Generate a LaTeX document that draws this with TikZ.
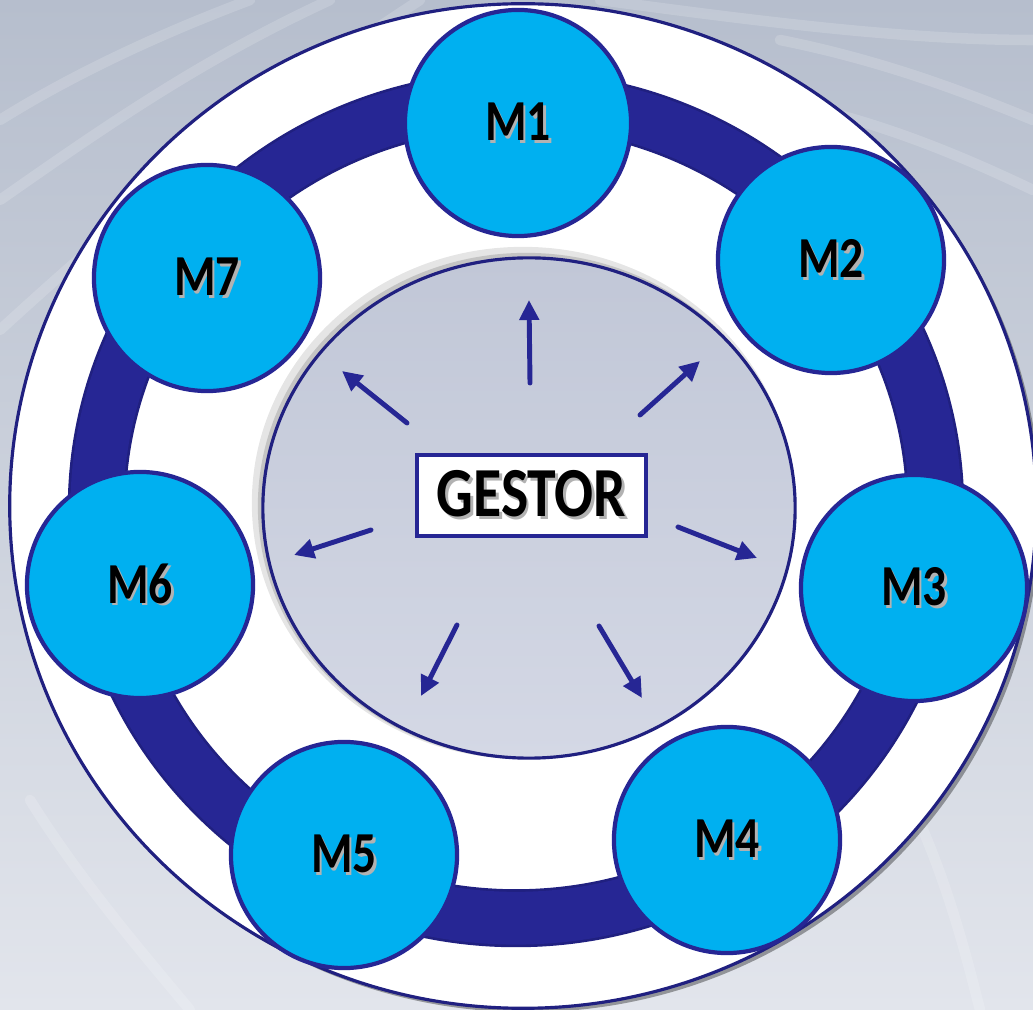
\documentclass[tikz,border=0pt]{standalone}
\usepackage{fontspec}
\setmainfont{Carlito}
\newfontfamily\labfont{Carlito}[FakeStretch=0.82]
\usetikzlibrary{arrows.meta}
\definecolor{navy}{RGB}{38,38,148}
\definecolor{navyd}{RGB}{32,32,128}
\definecolor{cyanm}{RGB}{0,176,240}
\definecolor{bgtop}{RGB}{182,190,205}
\definecolor{bgbot}{RGB}{226,229,236}
\definecolor{intop}{RGB}{193,199,215}
\definecolor{inbot}{RGB}{212,216,229}
\newcommand{\shtext}[1]{\makebox[0pt][l]{\raisebox{-0.8pt}{\hspace{0.8pt}\textcolor{black!30}{#1}}}#1}
\tikzset{
  module/.style={circle, draw=navy, line width=1.2pt, fill=cyanm, minimum size=2.26cm, inner sep=0pt,
    font=\labfont\bfseries\fontsize{16.5}{16.5}\selectfont, text=black},
  gestorbox/.style={rectangle, draw=navy, line width=1.2pt, fill=white, minimum width=2.29cm,
    minimum height=0.81cm, inner sep=0pt, font=\labfont\bfseries\fontsize{20}{20}\selectfont, text=black},
  ray/.style={draw=navy, line width=1.4pt, line cap=round, -{Triangle[length=0.2cm,width=0.19cm]}},
  streak/.style={draw=white, opacity=0.16, line width=3pt, line cap=round}
}
\begin{document}
\begin{tikzpicture}[x=0.01cm,y=-0.01cm]
\useasboundingbox (0,0) rectangle (1033,1010);
% background
\fill[top color=bgtop, bottom color=bgbot] (0,0) rectangle (1033,1010);
\draw[streak] (0,120) .. controls (80,70) and (170,30) .. (250,0);
\draw[streak] (0,200) .. controls (100,130) and (200,60) .. (330,0);
\draw[streak] (0,330) .. controls (120,220) and (250,110) .. (420,0);
\draw[streak] (780,40) .. controls (880,60) and (960,90) .. (1033,120);
\draw[streak] (820,110) .. controls (900,130) and (970,160) .. (1033,190);
\draw[streak] (600,0) .. controls (750,20) and (900,40) .. (1033,40);
\draw[streak] (30,800) .. controls (80,880) and (140,950) .. (190,1010);
\draw[streak] (900,780) .. controls (940,860) and (960,930) .. (980,1010);
% outer disc
\fill[black, opacity=0.35] (527,510) ellipse [x radius=5.13cm, y radius=5.02cm];
\filldraw[fill=white, draw=navyd, line width=0.9pt] (523,506) ellipse [x radius=5.13cm, y radius=5.02cm];
% ring
\draw[navyd, line width=16.5pt] (516,509) ellipse [x radius=4.19cm, y radius=4.09cm];
\draw[navy, line width=15pt] (516,509) ellipse [x radius=4.19cm, y radius=4.09cm];
% modules
\node[module] (m1) at (518,123) {\shtext{M1}};
\node[module] (m2) at (831,260) {\shtext{M2}};
\node[module] (m3) at (914,588) {\shtext{M3}};
\node[module] (m4) at (727,840) {\shtext{M4}};
\node[module] (m5) at (344,855) {\shtext{M5}};
\node[module] (m6) at (140,585) {\shtext{M6}};
\node[module] (m7) at (207,278) {\shtext{M7}};
% inner disc with soft shadow
\fill[black, opacity=0.10] (523,503) ellipse [x radius=2.71cm, y radius=2.56cm];
\fill[black, opacity=0.14] (526,506) ellipse [x radius=2.68cm, y radius=2.53cm];
\shade[top color=intop, bottom color=inbot] (529,508) ellipse [x radius=2.66cm, y radius=2.50cm];
\draw[navyd, line width=0.9pt] (529,508) ellipse [x radius=2.66cm, y radius=2.50cm];
% gestor
\node[gestorbox] (g) at (531.5,495.5) {\shtext{GESTOR}\hspace{0.12cm}};
% rays
\coordinate (r1s) at (530,383); \coordinate (r1e) at (529,300);
\coordinate (r2s) at (640,415); \coordinate (r2e) at (700,361);
\coordinate (r3s) at (678,527); \coordinate (r3e) at (757,558);
\coordinate (r4s) at (599,626); \coordinate (r4e) at (642,698);
\coordinate (r5s) at (457,625); \coordinate (r5e) at (421,696);
\coordinate (r6s) at (371,530); \coordinate (r6e) at (294,555);
\coordinate (r7s) at (407,423); \coordinate (r7e) at (342,371);
\foreach \i in {1,...,7} { \draw[ray] (r\i s) -- (r\i e); }
\end{tikzpicture}
\end{document}
